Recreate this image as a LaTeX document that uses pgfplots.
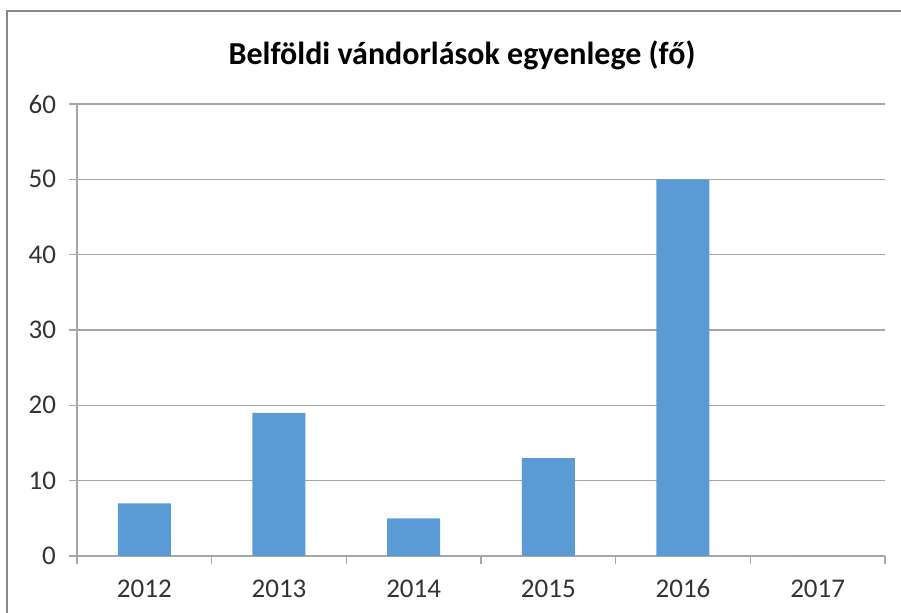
\documentclass[border=0pt]{standalone}
\usepackage{fontspec}
\setmainfont{Carlito}
\usepackage{pgfplots}
\pgfplotsset{compat=1.18}
\definecolor{barblue}{HTML}{5B9BD5}
\definecolor{gridgray}{HTML}{A6A6A6}
\definecolor{framegray}{HTML}{888888}
\definecolor{ticktext}{HTML}{333333}
\begin{document}
\begin{tikzpicture}
\useasboundingbox (0,0) rectangle (450.5pt,306.5pt);
\draw[framegray, line width=0.8pt] (3.5pt,-1pt) -- (3.5pt,301pt) -- (452pt,301pt);
\node[font=\fontsize{16}{19}\selectfont\bfseries, anchor=center] at (231pt,279pt) {Belföldi vándorlások egyenlege (fő)};
\begin{axis}[
  at={(38.5pt,28.5pt)}, anchor=south west,
  width=404pt, height=226pt, scale only axis,
  xmin=-0.5, xmax=5.5, ymin=0, ymax=60,
  ytick={0,10,...,60},
  xtick={0,...,5},
  xticklabels={2012,2013,2014,2015,2016,2017},
  minor xtick={-0.5,0.5,...,5.5},
  axis lines*=left,
  axis line style={gridgray, line width=0.8pt},
  tick align=outside,
  major tick length=4pt,
  minor tick length=4pt,
  x tick style={draw=none},
  minor x tick style={draw=gridgray, line width=0.8pt},
  y tick style={draw=gridgray, line width=0.8pt},
  ymajorgrids,
  grid style={gridgray, line width=0.8pt},
  /pgf/number format/assume math mode=true,
  tick label style={font=\fontsize{13.5}{16}\selectfont, text=ticktext},
  yticklabel style={xshift=-3pt},
  xticklabel style={yshift=-4pt, text height=9pt, text depth=0pt},
  clip=false,
]
\addplot[ybar, bar width=26.5pt, fill=barblue, draw=none] coordinates {
  (0,7) (1,19) (2,5) (3,13) (4,50) (5,0)
};
\end{axis}
\end{tikzpicture}
\end{document}
